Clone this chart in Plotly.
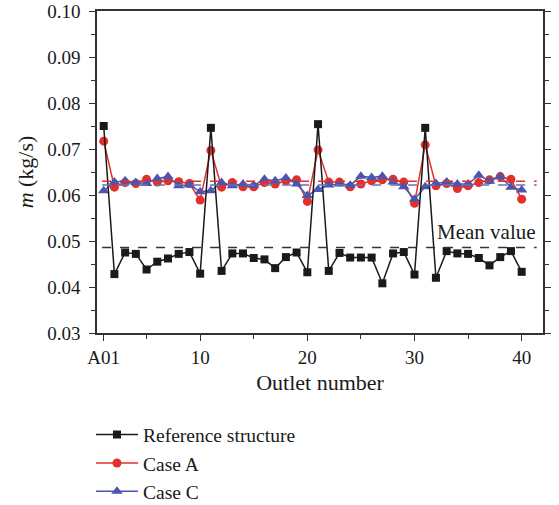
import plotly.graph_objects as go

outlets = list(range(1, 41))
tick_vals = [1, 10, 20, 30, 40]
tick_text = ["A01", "10", "20", "30", "40"]

reference = [0.0750, 0.0428, 0.0475, 0.0472, 0.0438, 0.0455, 0.0462, 0.0472, 0.0476, 0.0429,
             0.0746, 0.0435, 0.0473, 0.0473, 0.0463, 0.0460, 0.0441, 0.0465, 0.0475, 0.0432,
             0.0754, 0.0435, 0.0474, 0.0464, 0.0464, 0.0464, 0.0408, 0.0473, 0.0476, 0.0427,
             0.0746, 0.0420, 0.0478, 0.0473, 0.0472, 0.0463, 0.0447, 0.0465, 0.0478, 0.0433]
case_a = [0.0717, 0.0617, 0.0627, 0.0625, 0.0634, 0.0628, 0.0631, 0.0629, 0.0625, 0.0589,
          0.0697, 0.0617, 0.0627, 0.0618, 0.0618, 0.0627, 0.0624, 0.0631, 0.0633, 0.0586,
          0.0698, 0.0628, 0.0628, 0.0618, 0.0624, 0.0631, 0.0633, 0.0634, 0.0628, 0.0582,
          0.0709, 0.0620, 0.0625, 0.0614, 0.0620, 0.0627, 0.0633, 0.0640, 0.0634, 0.0591]
case_c = [0.0609, 0.0628, 0.0631, 0.0627, 0.0625, 0.0636, 0.0640, 0.0620, 0.0622, 0.0607,
          0.0609, 0.0627, 0.0620, 0.0624, 0.0621, 0.0634, 0.0631, 0.0637, 0.0624, 0.0599,
          0.0612, 0.0622, 0.0624, 0.0621, 0.0641, 0.0638, 0.0641, 0.0628, 0.0618, 0.0591,
          0.0618, 0.0625, 0.0628, 0.0624, 0.0624, 0.0643, 0.0630, 0.0640, 0.0617, 0.0611]
mean_reference = 0.0486
mean_case_a = 0.0630
mean_case_c = 0.0622

FONT = "Liberation Serif"
BLACK = "#1a1a1a"
RED = "#e2302a"
BLUE = "#4a55b0"

fig = go.Figure()

fig.add_trace(go.Scatter(x=outlets, y=case_a, mode="lines+markers", name="Case A",
                         line=dict(color=RED, width=1.5),
                         marker=dict(symbol="circle", size=9, color=RED), legendrank=2))
fig.add_trace(go.Scatter(x=outlets, y=case_c, mode="lines+markers", name="Case C",
                         line=dict(color=BLUE, width=1.5),
                         marker=dict(symbol="triangle-up", size=10, color=BLUE), legendrank=3))
fig.add_trace(go.Scatter(x=outlets, y=reference, mode="lines+markers", name="Reference structure",
                         line=dict(color=BLACK, width=1.5),
                         marker=dict(symbol="square", size=8, color=BLACK), legendrank=1))

for val, col in [(mean_reference, "#333333"), (mean_case_a, RED), (mean_case_c, "#6570c0")]:
    fig.add_shape(type="line", xref="x", yref="y", x0=0.85, x1=41.4, y0=val, y1=val,
                  line=dict(color=col, width=1.5, dash="dash"))

fig.add_annotation(x=36.7, y=mean_reference, xref="x", yref="y", text="Mean value",
                   showarrow=False, xanchor="center", yanchor="bottom", yshift=1,
                   font=dict(family=FONT, size=21, color="#1a1a1a"))

fig.update_layout(
    width=559, height=505,
    margin=dict(l=97, r=16, t=11, b=172, autoexpand=False),
    paper_bgcolor="white", plot_bgcolor="white",
    font=dict(family=FONT, size=19, color="#1a1a1a"),
    showlegend=True,
    legend=dict(x=-0.0135, y=-0.256, xanchor="left", yanchor="top", itemwidth=42,
                font=dict(family=FONT, size=19.5), tracegroupgap=0,
                bgcolor="rgba(0,0,0,0)"),
)
fig.update_xaxes(range=[0.375, 41.99], tickmode="array", tickvals=tick_vals, ticktext=tick_text,
                 ticks="outside", ticklen=6, tickwidth=1.2, tickcolor="#333",
                 showline=True, linecolor="#333", linewidth=1.5, mirror=True,
                 showgrid=False, zeroline=False, automargin=False,
                 minor=dict(tickmode="array", tickvals=[5, 15, 25, 35], ticks="outside",
                            ticklen=4, tickcolor="#333"),
                 title=dict(text="Outlet number", font=dict(family=FONT, size=22), standoff=8))
fig.update_yaxes(range=[0.03, 0.10], dtick=0.01, tickformat=".2f",
                 ticks="outside", ticklen=6, tickwidth=1.2, tickcolor="#333",
                 ticklabelstandoff=5,
                 showline=True, linecolor="#333", linewidth=1.5, mirror="ticks",
                 showgrid=False, zeroline=False, automargin=False,
                 minor=dict(dtick=0.005, ticks="outside", ticklen=4, tickcolor="#333"),
                 title=dict(text="<i>m</i> (kg/s)", font=dict(family=FONT, size=22), standoff=8))

fig.write_html("out.html", config={"displayModeBar": False},
               post_script="document.body.style.margin='0';")
